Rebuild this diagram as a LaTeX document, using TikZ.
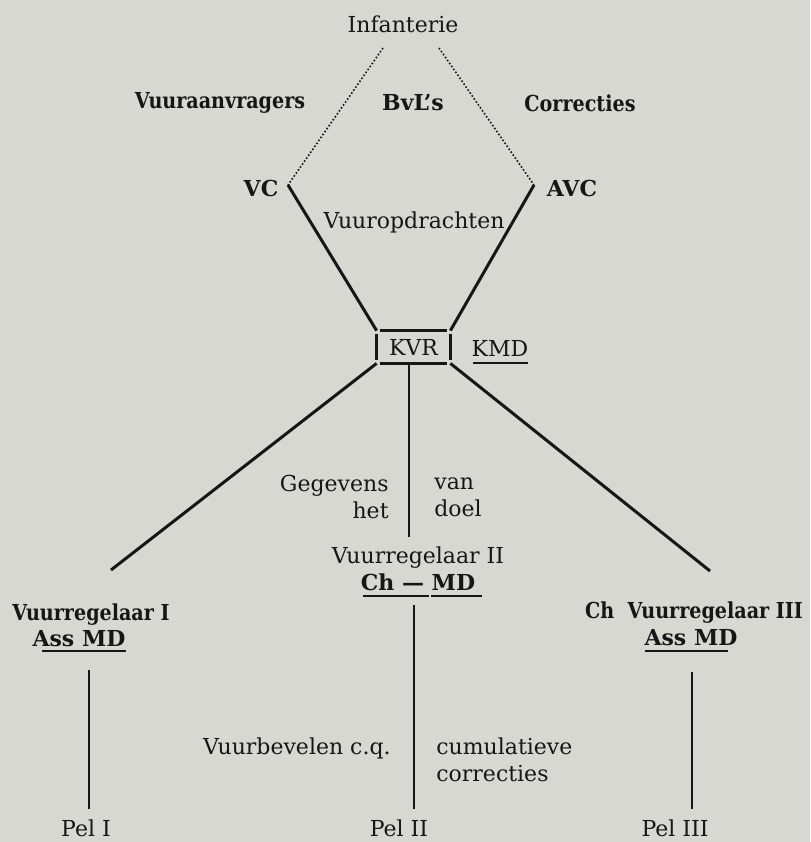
\documentclass[tikz,border=0pt]{standalone}
\usepackage{fontspec}
\setmainfont{DejaVu Serif}
\newfontfamily\narrowbf[FakeStretch=0.87]{DejaVu Serif Bold}
\usetikzlibrary{calc}
\definecolor{paper}{RGB}{216,216,211}
\definecolor{ink}{RGB}{22,22,22}

\begin{document}
\begin{tikzpicture}[x=0.5pt, y=-0.5pt,
    lbl/.style={font=\fontsize{11}{13.5}\selectfont, text=ink, inner sep=1pt},
    blbl/.style={lbl, font=\fontsize{11}{13.5}\selectfont\bfseries},
    nlbl/.style={lbl, font=\fontsize{11}{13.5}\selectfont\narrowbf},
    dotline/.style={ink, line width=0.8pt, densely dotted},
    link/.style={ink, line width=1.5pt},
    uline/.style={ink, line width=1.4pt}]
    \fill[paper] (0,0) rectangle (810,842);
    \useasboundingbox (0,0) rectangle (810,842);

    % bovenste deel
    \node[lbl] (inf) at (403,24) {Infanterie};
    \node[nlbl] (vaan) at (220,103) {Vuuraanvragers};
    \node[blbl] (bvl) at (413,103) {BvL's};
    \node[nlbl] (corr) at (580,103) {Correcties};
    \node[blbl] (vc) at (261,188) {VC};
    \node[blbl] (avc) at (572,188) {AVC};
    \node[lbl] (vop) at (414,222) {Vuuropdrachten};

    \coordinate (inf-l) at (383,48);
    \coordinate (inf-r) at (439,48);
    \coordinate (vc-pt) at (288,185);
    \coordinate (avc-pt) at (534,185);

    \draw[dotline] (inf-l) -- (vc-pt);
    \draw[dotline] (inf-r) -- (avc-pt);

    % KVR
    \node[lbl, minimum width=36.5pt, minimum height=16pt] (kvr) at (413.5,347) {KVR};
    \foreach \a/\b in {north west/north east, south west/south east,
                       north west/south west, north east/south east}{
      \draw[ink, line width=1.3pt, shorten <=1.5pt, shorten >=1.5pt] (kvr.\a) -- (kvr.\b);
    }
    \node[lbl] (kmd) at (500,348) {KMD};
    \draw[uline] (473,363) -- (528,363);

    \draw[link] (vc-pt) -- (kvr.north west);
    \draw[link] (avc-pt) -- (kvr.north east);

    % naar de vuurregelaars
    \coordinate (vr1-end) at (111,570);
    \coordinate (vr2-end) at (409,537);
    \coordinate (vr3-end) at (710,571);
    \draw[link] (kvr.south west) -- (vr1-end);
    \draw[link, line width=1.2pt] (vr2-end |- kvr.south) -- (vr2-end);
    \draw[link] (kvr.south east) -- (vr3-end);

    \node[lbl, align=right, anchor=east] (geg) at (391,497) {Gegevens\\het};
    \node[lbl, align=left, anchor=west] (van) at (432,497) {van\\doel};

    \node[lbl] (vr2) at (418,558) {Vuurregelaar II};
    \node[blbl] (chmd) at (418,582) {Ch --- MD};
    \draw[uline] (363,596) -- (429,596);
    \draw[uline] (431,596) -- (482,596);

    \node[nlbl] (vr1) at (91,615) {Vuurregelaar I};
    \node[blbl] (ass1) at (79,639) {Ass MD};
    \draw[uline] (42,651) -- (126,651);

    \node[nlbl] (vr3) at (694,613) {Ch~ Vuurregelaar III};
    \node[blbl] (ass3) at (691,638) {Ass MD};
    \draw[uline] (645,651) -- (728,651);

    % onderste deel
    \node[lbl, anchor=east] (vbv) at (393,748) {Vuurbevelen c.q.};
    \node[lbl, align=left, anchor=west] (cum) at (434,760) {cumulatieve\\correcties};

    \foreach \n/\x/\t in {1/86/I, 2/399/II, 3/675/III}{
      \node[lbl] (pel\n) at (\x,828) {Pel \t};
    }
    \coordinate (pel1-top) at (89,670);
    \coordinate (pel2-top) at (414,605);
    \coordinate (pel3-top) at (692,672);
    \foreach \n in {1,2,3}{
      \draw[link, line width=1.3pt, shorten >=4pt] (pel\n-top) -- (pel\n-top |- pel\n.north);
    }
\end{tikzpicture}
\end{document}
